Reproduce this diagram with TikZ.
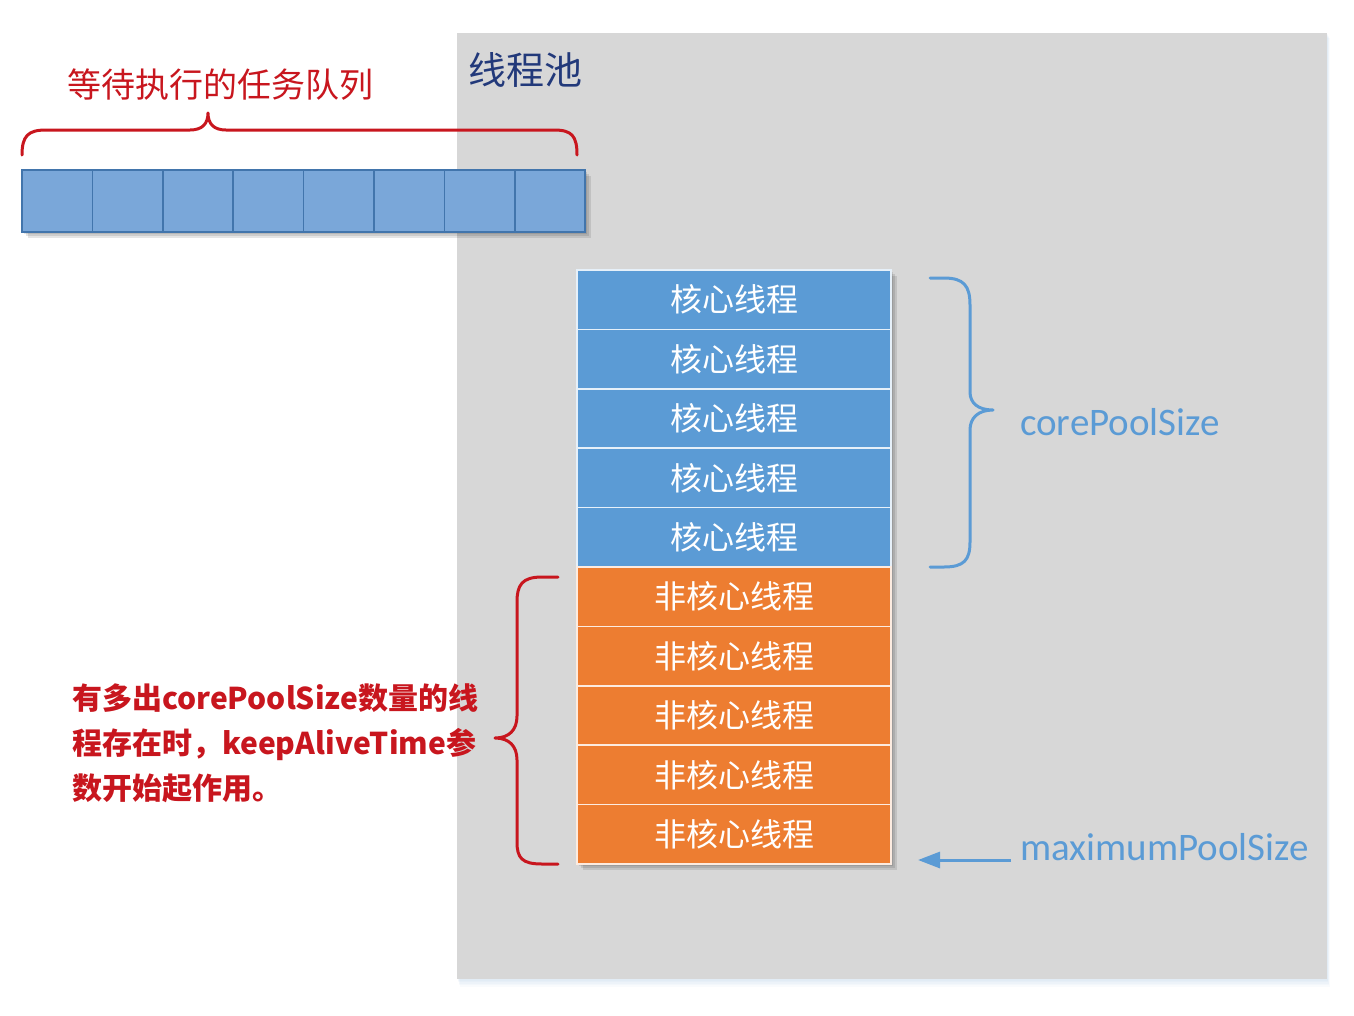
\documentclass[tikz,border=0pt]{standalone}
\usepackage{fontspec}
\newfontfamily\cjk{Noto Sans CJK SC}
\newfontfamily\calfont{Carlito}
\usetikzlibrary{arrows.meta}
\definecolor{poolgrey}{HTML}{D7D7D7}
\definecolor{coreblue}{HTML}{5B9BD5}
\definecolor{queueblue}{HTML}{7AA7D9}
\definecolor{queueedge}{HTML}{4275AC}
\definecolor{noncore}{HTML}{ED7D31}
\definecolor{darkred}{HTML}{C8161E}
\definecolor{titleblue}{HTML}{22397A}
\definecolor{labelblue}{HTML}{5B9BD5}
\tikzset{
  softshadow/.style={fill=black, opacity=0.10},
  qcell/.style={draw=queueedge, line width=1.5pt, fill=queueblue, minimum width=70.4pt, minimum height=62pt, inner sep=0pt},
  corecell/.style={draw=white!85!coreblue, line width=1.6pt, fill=coreblue, minimum width=314pt, minimum height=59.4pt, inner sep=0pt, text=white, font=\cjk\fontsize{32}{36}\selectfont},
  noncell/.style={corecell, fill=noncore, draw=white!85!noncore},
  redbrace/.style={draw=darkred, line width=3pt, line cap=round, line join=round},
  bluebrace/.style={draw=labelblue, line width=3pt, line cap=round, line join=round},
  bluelabel/.style={text=labelblue, font=\calfont\fontsize{39}{44}\selectfont, inner sep=0pt, anchor=west},
}
\begin{document}
\begin{tikzpicture}[x=1pt,y=-1pt]
\useasboundingbox (0,0) rectangle (1354,1015);
\fill[white] (0,0) rectangle (1354,1015);
% thread pool box with soft shadow
\foreach \d in {1,2,3,4,5}{
  \fill[labelblue, opacity=0.035] ({457+\d*0.6},{33+\d}) rectangle ({1327+\d*0.6},{979+\d*1.6});
}
\fill[poolgrey] (457,33) rectangle (1327,979);
\node[text=titleblue, font=\cjk\fontsize{38}{44}\selectfont, anchor=west, inner sep=0pt] (pooltitle) at (468,70) {线程池};
% task queue shadow
\foreach \d in {2,4,6}{
  \fill[softshadow] ({22+\d},{170+\d}) rectangle ({585+\d},{232+\d});
}
\foreach \i in {0,...,7}{
  \node[qcell] (q\i) at ({22+35.2+70.4*\i},201) {};
}
\node[text=darkred, font=\cjk\fontsize{34}{38}\selectfont, inner sep=0pt] (qlabel) at (220,85) {等待执行的任务队列};
\draw[redbrace] (22,155) .. controls (22,136) and (28,130) .. (46,130) -- (190,130) .. controls (202,130) and (208,124) .. (208,113) .. controls (208,124) and (214,130) .. (226,130) -- (554,130) .. controls (572,130) and (577,136) .. (577,155);
% thread stack shadow
\foreach \d in {2,4,6}{
  \fill[softshadow] ({577+\d},{270+\d}) rectangle ({891+\d},{864+\d});
}
\foreach \i in {1,...,5}{
  \node[corecell] (c\i) at (734,{270+29.7+59.4*(\i-1)}) {核心线程};
}
\foreach \i in {1,...,5}{
  \node[noncell] (n\i) at (734,{567+29.7+59.4*(\i-1)}) {非核心线程};
}
% corePoolSize brace
\draw[bluebrace] (930,278) -- (944,278) .. controls (964,278) and (970,286) .. (970,305) -- (970,392) .. controls (970,403) and (978,410) .. (993,410) .. controls (978,410) and (970,418) .. (970,430) -- (970,542) .. controls (970,560) and (964,567) .. (944,567) -- (930,567);
\node[bluelabel] (corelabel) at (1020,422) {corePoolSize};
% maximumPoolSize arrow
\node[bluelabel] (maxlabel) at (1020,847) {maximumPoolSize};
\coordinate (arrtail) at (1011,860);
\coordinate (arrhead) at (918,860);
\draw[labelblue, line width=3pt, -{Triangle[length=22pt,width=16pt]}] (arrtail) -- (arrhead);
% left red brace
\draw[redbrace] (558,577) -- (542,577) .. controls (522,577) and (517,585) .. (517,602) -- (517,716) .. controls (517,730) and (509,738) .. (495,738) .. controls (509,738) and (517,746) .. (517,760) -- (517,842) .. controls (517,858) and (522,864) .. (542,864) -- (558,864);
\node[text=darkred, font=\cjk\bfseries\fontsize{30}{45}\selectfont, align=left, anchor=west, inner sep=0pt] (note) at (72,743) {有多出corePoolSize数量的线\\程存在时，keepAliveTime参\\数开始起作用。};
\end{tikzpicture}
\end{document}
